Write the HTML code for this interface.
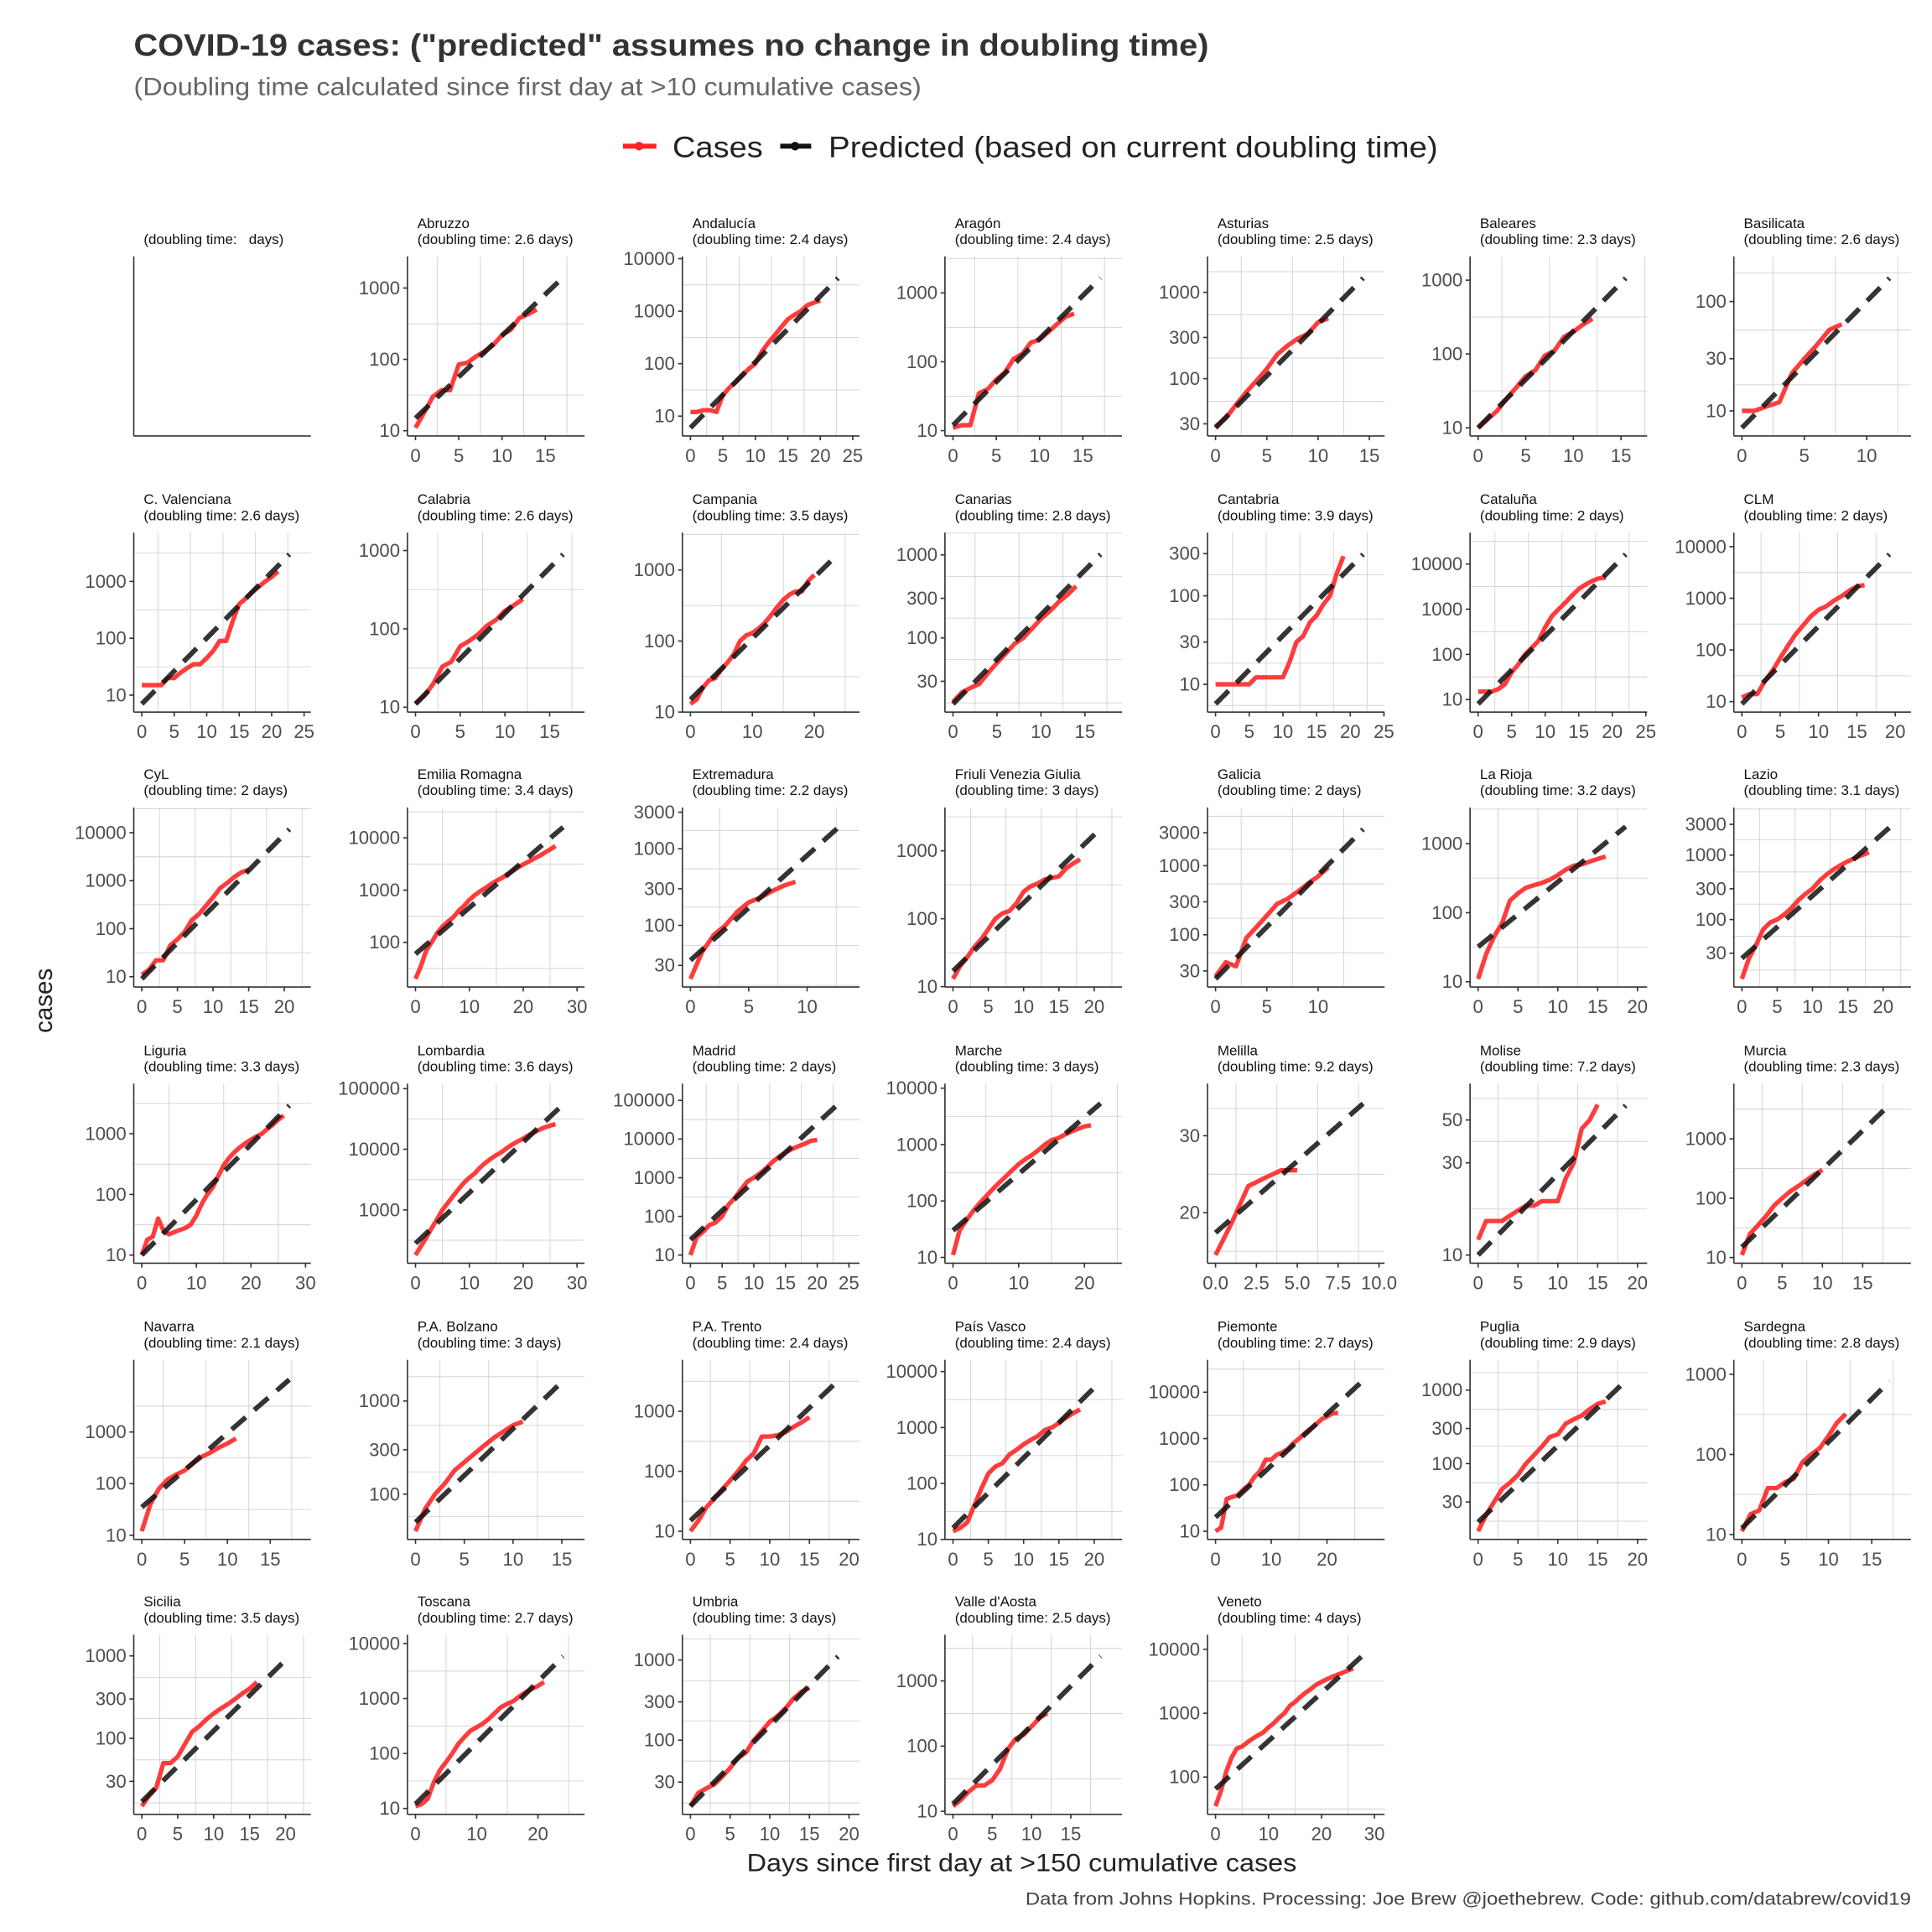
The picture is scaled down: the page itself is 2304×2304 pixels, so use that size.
<!DOCTYPE html>
<html><head><meta charset="utf-8">
<style>
html,body{margin:0;padding:0;background:#fff;}
svg{display:block;font-family:"Liberation Sans",Arial,sans-serif;}
</style></head>
<body>
<svg id="chart" xmlns="http://www.w3.org/2000/svg" width="2304" height="2304" viewBox="0 0 1560 1560">
<rect x="0" y="0" width="1560" height="1560" fill="#fff"/>
<text x="108" y="45" font-size="25" font-weight="bold" fill="#333" textLength="868" lengthAdjust="spacingAndGlyphs">COVID-19 cases: ("predicted" assumes no change in doubling time)</text>
<text x="108" y="77" font-size="20" fill="#666" textLength="636" lengthAdjust="spacingAndGlyphs">(Doubling time calculated since first day at &gt;10 cumulative cases)</text>
<g>
  <g>
    <line x1="503" y1="118" x2="530" y2="118" stroke="#ff2222" stroke-width="4"/>
    <circle cx="516" cy="118" r="3.5" fill="#ff2222"/>
    <text x="543" y="127" font-size="24" fill="#222" textLength="73" lengthAdjust="spacingAndGlyphs">Cases</text>
  </g>
  <g>
    <line x1="630" y1="118" x2="656" y2="118" stroke="#111" stroke-width="4" stroke-dasharray="10,5"/>
    <circle cx="642" cy="118" r="3.5" fill="#111"/>
    <text x="669" y="127" font-size="24" fill="#222" textLength="492" lengthAdjust="spacingAndGlyphs">Predicted (based on current doubling time)</text>
  </g>
</g>
<text transform="translate(42,808) rotate(-90)" text-anchor="middle" font-size="20" fill="#222">cases</text>
<text x="825" y="1511" text-anchor="middle" font-size="20" fill="#222" textLength="444" lengthAdjust="spacingAndGlyphs">Days since first day at &gt;150 cumulative cases</text>
<text x="1543" y="1538" text-anchor="end" font-size="14.5" fill="#444" textLength="715" lengthAdjust="spacingAndGlyphs">Data from Johns Hopkins. Processing: Joe Brew @joethebrew. Code: github.com/databrew/covid19</text>
<g id="panels"></g>
</svg>
<script>
const regionNames = ["", "Abruzzo","Andalucía","Aragón","Asturias","Baleares","Basilicata",
"C. Valenciana","Calabria","Campania","Canarias","Cantabria","Cataluña","CLM",
"CyL","Emilia Romagna","Extremadura","Friuli Venezia Giulia","Galicia","La Rioja","Lazio",
"Liguria","Lombardia","Madrid","Marche","Melilla","Molise","Murcia",
"Navarra","P.A. Bolzano","P.A. Trento","País Vasco","Piemonte","Puglia","Sardegna",
"Sicilia","Toscana","Umbria","Valle d'Aosta","Veneto"];
const doublingTimes = [null,2.6,2.4,2.4,2.5,2.3,2.6, 2.6,2.6,3.5,2.8,3.9,2,2, 2,3.4,2.2,3,2,3.2,3.1,
 3.3,3.6,2,3,9.2,7.2,2.3, 2.1,3,2.4,2.4,2.7,2.9,2.8, 3.5,2.7,3,2.5,4];
const predictedStart = [null,15,6,12,27,10,7, 7,11,15,16,6,8,9, 9,60,35,17,23,32,25,
 10,280,25,30,18,10,15, 35,50,15,16,20,16,12, 17,12,15,13,65];
const predictedEnd = [null,18.6,24.8,18.6,15.7,16.9,12.9, 24.8,18,26,18.3,23.9,24,21, 22.6,29.9,13.8,22.8,15.7,20.2,22.8,
 29.5,29.9,25.4,24.5,9.85,20.2,20, 18.8,16.5,20.3,22.8,28.9,20.2,18.6, 22.4,26.3,20.3,20.5,30.4];
const casesSeries = [
 null,
 [11,18,30,37,37,85,90,110,130,160,220,260,380,430,500],
 [12,12,13,13,12,25,35,45,60,80,100,170,250,350,500,700,850,1000,1300,1450,1600],
 [11,12,12,35,40,55,70,110,130,190,210,270,350,450,500],
 [28,35,50,70,95,130,190,240,290,330,450,500],
 [10,13,17,25,35,50,60,95,110,170,200,250,300],
 [10,10,11,12,22,30,40,55,62],
 [15,15,15,15,20,20,25,30,35,35,45,60,90,90,200,400,500,650,800,1000,1200,1500],
 [11,14,20,33,38,60,70,85,110,130,170,200,240],
 [13,15,22,28,30,40,50,65,100,120,130,150,180,230,300,380,450,500,500,700,850],
 [17,22,25,28,38,50,65,85,100,130,170,210,270,330,420],
 [10,10,10,10,10,10,12,12,12,12,12,18,30,35,50,60,80,100,180,280],
 [15,15,15,17,22,40,60,100,140,200,400,700,1000,1400,2000,2800,3500,4200,4800,5000],
 [12,14,14,25,40,70,120,200,300,450,600,700,900,1100,1400,1700,1800],
 [11,14,22,22,45,60,85,150,200,300,450,700,900,1200,1500,1700],
 [20,35,70,100,150,200,250,300,400,500,650,800,950,1100,1300,1500,1700,2000,2300,2700,3100,3500,4000,4500,5200,6000,7000],
 [20,45,75,100,150,200,230,280,330,370],
 [13,20,27,38,50,70,100,120,130,170,250,300,330,380,400,420,550,650,750],
 [25,40,35,90,130,190,280,330,420,550,700,950],
 [11,25,45,70,150,190,230,250,270,300,350,420,480,500,550,600,650],
 [12,25,40,70,90,100,120,150,200,250,300,400,500,600,700,800,900,1000,1100],
 [10,18,20,40,25,22,24,26,28,32,45,70,100,130,200,300,400,500,600,700,800,900,1000,1200,1400,1700,2000],
 [180,250,350,500,700,1000,1300,1700,2200,2800,3400,4000,5000,6000,7000,8000,9000,10500,12000,13500,15000,17000,19000,21000,23000,24500,26000],
 [10,30,40,60,70,100,200,300,500,800,1000,1300,1800,2600,3500,4500,5500,6500,7500,9000,9500],
 [11,30,45,65,90,120,160,210,270,350,450,550,650,800,1000,1200,1300,1500,1700,1900,2100,2200],
 [16,19,23,24,25,25],
 [12,15,15,15,16,17,18,18,19,19,19,25,30,45,50,60],
 [11,25,35,50,75,100,130,160,200,250,300],
 [12,40,80,120,150,180,250,330,400,500,600,750],
 [40,70,100,130,180,220,270,330,400,470,550,600],
 [10,15,25,35,50,70,100,150,200,380,380,400,450,550,650,800],
 [14,16,20,40,80,150,200,230,330,400,500,600,700,900,1000,1200,1500,1800,2100],
 [10,12,50,55,60,80,100,150,200,350,350,450,500,600,800,1000,1300,1600,2000,2600,3000,3500,3600],
 [12,20,30,45,55,70,100,130,170,230,250,350,400,450,550,650,700],
 [11,18,20,38,38,45,50,80,100,120,170,250,320],
 [15,20,25,50,50,60,85,120,140,170,200,230,260,300,350,400,480],
 [11,12,15,30,50,70,100,150,200,260,300,350,430,550,700,800,900,1100,1300,1500,1700,2000],
 [15,22,25,28,35,45,60,70,100,130,170,200,250,330,400,450],
 [12,15,20,25,25,30,45,90,130,150,200,270,320],
 [35,60,120,200,280,300,350,400,450,500,600,700,850,1000,1300,1500,1800,2100,2400,2800,3100,3400,3700,4000,4300,4700,5000]
];
const yTickValues = [
 [], [10,100,1000],[10,100,1000,10000],[10,100,1000],[30,100,300,1000,3000],[10,100,1000],[10,30,100],
 [10,100,1000],[10,100,1000],[10,100,1000],[30,100,300,1000],[10,30,100,300],[10,100,1000,10000],[10,100,1000,10000],
 [10,100,1000,10000],[100,1000,10000],[30,100,300,1000,3000],[10,100,1000],[30,100,300,1000,3000],[10,100,1000],[30,100,300,1000,3000],
 [10,100,1000],[1000,10000,100000],[10,100,1000,10000,100000],[10,100,1000,10000],[20,30,40],[10,30,50],[10,100,1000],
 [10,100,1000],[100,300,1000],[10,100,1000],[10,100,1000,10000],[10,100,1000,10000],[30,100,300,1000,3000],[10,100,1000],
 [30,100,300,1000],[10,100,1000,10000],[30,100,300,1000],[10,100,1000],[100,1000,10000]
];
const xTickValues = [
 [], [0,5,10,15],[0,5,10,15,20,25],[0,5,10,15],[0,5,10,15],[0,5,10,15],[0,5,10],
 [0,5,10,15,20,25],[0,5,10,15],[0,10,20],[0,5,10,15],[0,5,10,15,20,25],[0,5,10,15,20,25],[0,5,10,15,20],
 [0,5,10,15,20],[0,10,20,30],[0,5,10],[0,5,10,15,20],[0,5,10],[0,5,10,15,20],[0,5,10,15,20],
 [0,10,20,30],[0,10,20,30],[0,5,10,15,20,25],[0,10,20],[0,2.5,5,7.5,10],[0,5,10,15,20],[0,5,10,15],
 [0,5,10,15],[0,5,10,15],[0,5,10,15,20],[0,5,10,15,20],[0,10,20],[0,5,10,15,20],[0,5,10,15],
 [0,5,10,15,20],[0,10,20],[0,5,10,15,20],[0,5,10,15],[0,10,20,30]
];

const NS = "http://www.w3.org/2000/svg";
const colRight = [251,472,694,906,1118,1330,1543];
const rowTop = [207,430,652,875,1098,1320];
const PW = 143, PH = 145;
const DRAW_FRAC = 0.92;
const root = document.getElementById('panels');
function mk(tag, attrs, parent){
  const e = document.createElementNS(NS, tag);
  for (const k in attrs) e.setAttribute(k, attrs[k]);
  if (parent) parent.appendChild(e);
  return e;
}
function minorBreaks(ticks){
  const out = [];
  if (ticks.length < 2) return out;
  out.push(ticks[0] - (ticks[1]-ticks[0])/2);
  for (let i=0;i<ticks.length-1;i++) out.push((ticks[i]+ticks[i+1])/2);
  const n = ticks.length;
  out.push(ticks[n-1] + (ticks[n-1]-ticks[n-2])/2);
  return out;
}
const fmtX = (v, arr) => arr.some(t => t % 1 !== 0) ? v.toFixed(1) : String(v);

for (let i = 0; i < regionNames.length; i++) {
  const col = i % 7, row = Math.floor(i / 7);
  const L = colRight[col] - PW, T = rowTop[row];
  const g = mk('g', {}, root);
  
  

  const s1 = mk('text', {x: L+8, y: T-23, 'font-size': 11.5, fill: '#111'}, g);
  s1.textContent = regionNames[i];
  
  
  const s2 = mk('text', {x: L+8, y: T-10, 'font-size': 11.5, fill: '#111'}, g);
  s2.textContent = '(doubling time: ' + (doublingTimes[i] === null ? '\u00a0' : doublingTimes[i]) + ' days)';
  
  

  if (casesSeries[i] === null) {
    const a1 = mk('line', {x1: L, y1: T, x2: L, y2: T+PH, stroke: '#333', 'stroke-width': 1.1}, g);
    
    
    const a2 = mk('line', {x1: L, y1: T+PH, x2: L+PW, y2: T+PH, stroke: '#333', 'stroke-width': 1.1}, g);
    
    
    continue;
  }

  const cases = casesSeries[i];
  const dt = doublingTimes[i], p0 = predictedStart[i], xe = predictedEnd[i];
  const predX = [], predY = [];
  for (let k = 0; k <= 60; k++) { const x = xe*k/60; predX.push(x); predY.push(p0*Math.pow(2, x/dt)); }
  const allY = cases.concat(predY);
  const lmin = Math.log10(Math.min(...allY)), lmax = Math.log10(Math.max(...allY));
  const ly0 = lmin - 0.05*(lmax-lmin), ly1 = lmax + 0.05*(lmax-lmin);
  const xmax = Math.max(xe, cases.length-1);
  const lx0 = -0.05*xmax, lx1 = xmax*1.05;
  const xs = x => L + (x - lx0)/(lx1 - lx0)*PW;
  const ys = v => T + PH - (Math.log10(v) - ly0)/(ly1 - ly0)*PH;
  const ysl = l => T + PH - (l - ly0)/(ly1 - ly0)*PH;

  const cid = 'clip' + i;
  const cp = mk('clipPath', {id: cid}, g);
  mk('rect', {x: L, y: T, width: PW, height: PH}, cp);

  const grid = mk('g', {stroke: '#d6d6d6', 'stroke-width': 0.7}, g);
  
  
  minorBreaks(xTickValues[i]).forEach(v => {
    if (v <= lx0 || v >= lx1) return;
    const gl = mk('line', {x1: xs(v), x2: xs(v), y1: T, y2: T+PH}, grid);
    
    
  });
  minorBreaks(yTickValues[i].map(Math.log10)).forEach(l => {
    if (l <= ly0 || l >= ly1) return;
    const gl = mk('line', {x1: L, x2: L+PW, y1: ysl(l), y2: ysl(l)}, grid);
    
    
  });

  const pc = cases.map((v, d) => xs(d).toFixed(2) + ',' + ys(v).toFixed(2)).join(' ');
  const cl = mk('polyline', {points: pc, fill: 'none', stroke: '#ff1a1a', 'stroke-opacity': 0.85, 'stroke-width': 3.6, 'stroke-linejoin': 'round', 'clip-path': 'url(#'+cid+')'}, g);
  
  
  const drawn = predX.map((x, k) => [x, predY[k]]).filter(p => p[0] <= xe*DRAW_FRAC + 1e-9);
  const pp = drawn.map(p => xs(p[0]).toFixed(2) + ',' + ys(p[1]).toFixed(2)).join(' ');
  const pl = mk('polyline', {points: pp, fill: 'none', stroke: '#111', 'stroke-opacity': 0.85, 'stroke-width': 4, 'stroke-dasharray': '15,9', 'clip-path': 'url(#'+cid+')'}, g);
  
  

  const ya = mk('line', {x1: L, y1: T, x2: L, y2: T+PH, stroke: '#333', 'stroke-width': 1.1}, g);
  
  
  const xa = mk('line', {x1: L, y1: T+PH, x2: L+PW, y2: T+PH, stroke: '#333', 'stroke-width': 1.1}, g);
  
  

  yTickValues[i].forEach(v => {
    const y = ys(v);
    if (y < T - 0.5 || y > T + PH + 0.5) return;
    const tk = mk('line', {x1: L-3.5, x2: L, y1: y, y2: y, stroke: '#333', 'stroke-width': 1.1}, g);
    
    
    const tl = mk('text', {x: L-6, y: y+5, 'text-anchor': 'end', 'font-size': 15, fill: '#4d4d4d'}, g);
    tl.textContent = String(v);
    
    
  });
  xTickValues[i].forEach(v => {
    if (v < lx0 || v > lx1) return;
    const x = xs(v);
    const tk = mk('line', {x1: x, x2: x, y1: T+PH, y2: T+PH+3.5, stroke: '#333', 'stroke-width': 1.1}, g);
    
    
    const tl = mk('text', {x: x, y: T+PH+21, 'text-anchor': 'middle', 'font-size': 15, fill: '#4d4d4d'}, g);
    tl.textContent = fmtX(v, xTickValues[i]);
    
    
  });
}
</script>
</body></html>
